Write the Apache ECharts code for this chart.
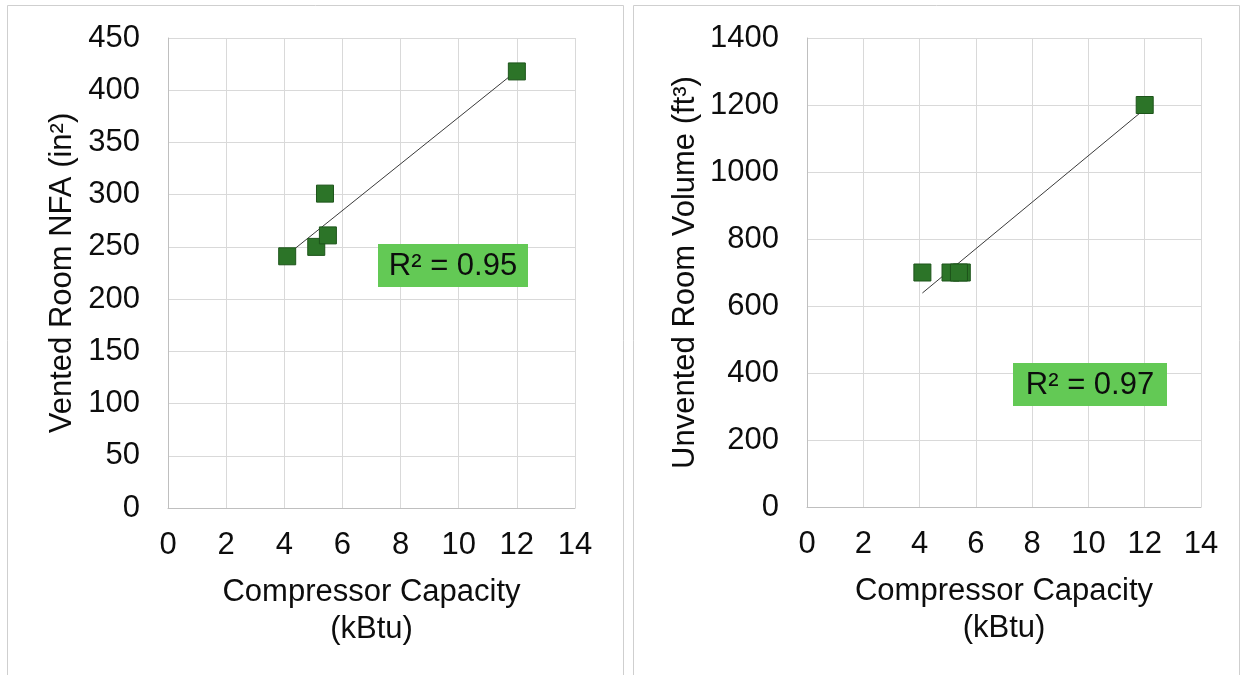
<!DOCTYPE html>
<html>
<head>
<meta charset="utf-8">
<script src="https://cdn.jsdelivr.net/npm/echarts@6/dist/echarts.min.js"></script>
<style>
html,body{margin:0;padding:0;background:#fff;}
#c{width:1243px;height:675px;}
</style>
</head>
<body>
<div id="c"></div>
<script>
// ---- data ----
const compressorCapacity = [4.1, 5.1, 5.5, 5.4, 12.0];      // kBtu
const ventedRoomNFA      = [241, 250, 261, 301, 418];        // in²
const unventedRoomVolume = [700, 700, 700, 700, 1200];       // ft³
const r2Labels = ['R² = 0.95', 'R² = 0.97'];
const xTitle = 'Compressor Capacity\n(kBtu)';
const yTitles = ['Vented Room NFA (in²)', 'Unvented Room Volume (ft³)'];

function pairs(xs, ys){ return xs.map((x,i)=>[x, ys[i]]); }
function linFit(xs, ys){
  const n = xs.length;
  const mx = xs.reduce((a,b)=>a+b,0)/n, my = ys.reduce((a,b)=>a+b,0)/n;
  let sxy=0, sxx=0;
  for(let i=0;i<n;i++){ sxy+=(xs[i]-mx)*(ys[i]-my); sxx+=(xs[i]-mx)*(xs[i]-mx); }
  const b = sxy/sxx, a = my-b*mx;
  const x0 = Math.min(...xs), x1 = Math.max(...xs);
  return [[x0, a+b*x0],[x1, a+b*x1]];
}

const FONT = '"Liberation Sans", Arial, sans-serif';
const FS = 31;
const TXT = '#0d0d0d';
const GRID = '#d9d9d9';
const AXIS = '#bfbfbf';
const plain = v => String(v);

function xAxisCfg(idx){
  return {
    gridIndex: idx, type:'value', min:0, max:14, interval:2,
    axisLine:{show:true, lineStyle:{color:AXIS, width:1}},
    axisTick:{show:false},
    splitLine:{show:true, lineStyle:{color:GRID, width:1}},
    axisLabel:{color:TXT, fontFamily:FONT, fontSize:FS, margin:22, formatter:plain},
    name: xTitle, nameLocation:'middle', nameGap:66,
    nameTextStyle:{color:TXT, fontFamily:FONT, fontSize:FS, lineHeight:37}
  };
}
function yAxisCfg(idx, max, interval, name, gap){
  return {
    gridIndex: idx, type:'value', min:0, max:max, interval:interval,
    axisLine:{show:true, lineStyle:{color:AXIS, width:1}},
    axisTick:{show:false},
    splitLine:{show:true, lineStyle:{color:GRID, width:1}},
    axisLabel:{color:TXT, fontFamily:FONT, fontSize:FS, margin:28, formatter:plain},
    name: name, nameLocation:'middle', nameGap:gap,
    nameTextStyle:{color:TXT, fontFamily:FONT, fontSize:FS}
  };
}
const markerStyle = {color:'#2c7428', borderColor:'#1d541a', borderWidth:1, opacity:1};
const trendStyle = {color:'#3a3a3a', width:1};

const chart = echarts.init(document.getElementById('c'), null, {renderer:'canvas'});
chart.setOption({
  animation:false,
  backgroundColor:'#ffffff',
  grid:[
    {left:168, top:38, width:407, height:470},
    {left:807, top:38, width:394, height:469}
  ],
  xAxis:[xAxisCfg(0), xAxisCfg(1)],
  yAxis:[
    yAxisCfg(0, 450, 50, yTitles[0], 90),
    yAxisCfg(1, 1400, 200, yTitles[1], 106)
  ],
  series:[
    {type:'line', xAxisIndex:0, yAxisIndex:0, data:linFit(compressorCapacity, ventedRoomNFA),
     showSymbol:false, lineStyle:trendStyle, z:2},
    {type:'scatter', xAxisIndex:0, yAxisIndex:0, data:pairs(compressorCapacity, ventedRoomNFA),
     symbol:'rect', symbolSize:17, itemStyle:markerStyle, z:3},
    {type:'line', xAxisIndex:1, yAxisIndex:1, data:linFit(compressorCapacity, unventedRoomVolume),
     showSymbol:false, lineStyle:trendStyle, z:2},
    {type:'scatter', xAxisIndex:1, yAxisIndex:1, data:pairs(compressorCapacity, unventedRoomVolume),
     symbol:'rect', symbolSize:17, itemStyle:markerStyle, z:3}
  ],
  graphic:[
    {type:'rect', shape:{x:7.5, y:5.5, width:616, height:680}, style:{fill:null, stroke:'#cfcfcf', lineWidth:1}, z:-1, silent:true},
    {type:'rect', shape:{x:633.5, y:5.5, width:606, height:680}, style:{fill:null, stroke:'#cfcfcf', lineWidth:1}, z:-1, silent:true},
    {type:'rect', shape:{x:378, y:244, width:150, height:43}, style:{fill:'#63c955'}, z:10},
    {type:'text', x:453, y:266, style:{text:r2Labels[0], fill:'#0d0d0d', font:'31px "Liberation Sans", Arial, sans-serif', textAlign:'center', textVerticalAlign:'middle'}, z:11},
    {type:'rect', shape:{x:1013, y:363, width:154, height:43}, style:{fill:'#63c955'}, z:10},
    {type:'text', x:1090, y:385, style:{text:r2Labels[1], fill:'#0d0d0d', font:'31px "Liberation Sans", Arial, sans-serif', textAlign:'center', textVerticalAlign:'middle'}, z:11}
  ]
});
</script>
</body>
</html>
